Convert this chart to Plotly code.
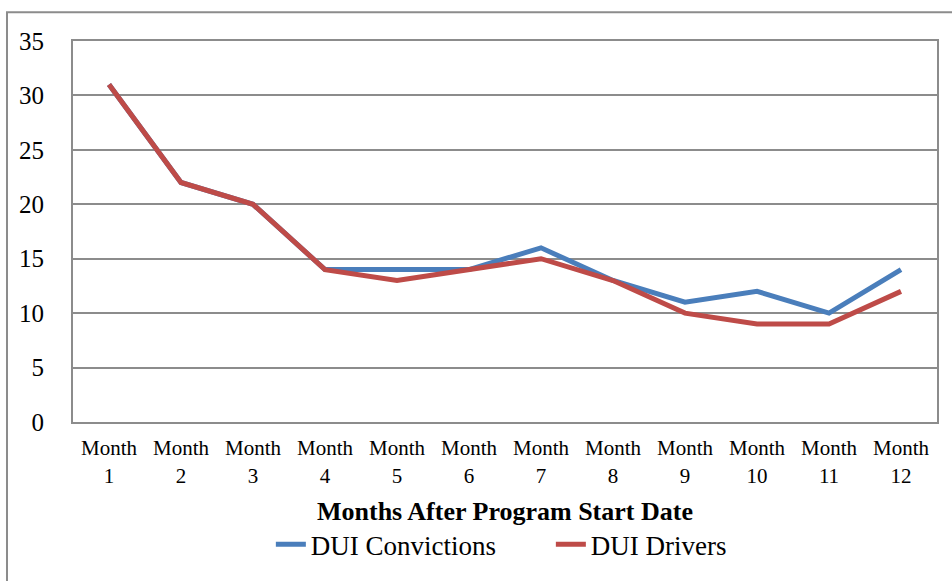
import plotly.graph_objects as go

# Data
months = ["Month<br>1", "Month<br>2", "Month<br>3", "Month<br>4", "Month<br>5", "Month<br>6",
          "Month<br>7", "Month<br>8", "Month<br>9", "Month<br>10", "Month<br>11", "Month<br>12"]
dui_convictions = [31, 22, 20, 14, 14, 14, 16, 13, 11, 12, 10, 14]
dui_drivers = [31, 22, 20, 14, 13, 14, 15, 13, 10, 9, 9, 12]
y_ticks = [0, 5, 10, 15, 20, 25, 30, 35]

serif = "Liberation Serif, Times New Roman, serif"
grid = "#8c8c8c"

fig = go.Figure()

fig.add_trace(go.Scatter(
    x=months, y=dui_convictions,
    mode="lines",
    line=dict(color="#4a7ebb", width=5),
    name="DUI Convictions",
))
fig.add_trace(go.Scatter(
    x=months, y=dui_drivers,
    mode="lines",
    line=dict(color="#be4b48", width=5),
    name="DUI Drivers",
))

fig.update_layout(
    width=952, height=581,
    margin=dict(l=73, r=15, t=41, b=155),
    paper_bgcolor="white",
    plot_bgcolor="white",
    font=dict(family=serif, color="black"),
    showlegend=True,
    legend=dict(
        orientation="h",
        x=0.229, xanchor="left",
        y=-0.322, yanchor="middle",
        font=dict(size=27, family=serif),
        entrywidth=235,
        traceorder="normal",
    ),
    xaxis=dict(
        type="category",
        range=[-0.5, 11.5],
        showgrid=False,
        showline=True, linecolor=grid, linewidth=2, mirror=True,
        ticks="",
        ticklabelstandoff=6,
        tickfont=dict(size=21, family=serif),
        tickangle=0,
    ),
    yaxis=dict(
        range=[0, 35],
        tickvals=y_ticks,
        showgrid=True, gridcolor=grid, gridwidth=1.5,
        showline=True, linecolor=grid, linewidth=2, mirror=True,
        zeroline=False,
        ticks="",
        ticklabelstandoff=22,
        tickfont=dict(size=25, family=serif),
    ),
    annotations=[dict(
        text="<b>Months After Program Start Date</b>",
        xref="paper", yref="paper",
        x=0.5, y=-0.234, xanchor="center", yanchor="middle",
        showarrow=False,
        font=dict(size=26, family=serif),
    )],
    shapes=[dict(
        type="rect", xref="paper", yref="paper",
        x0=-0.0764, x1=1.03, y0=-0.43, y1=1.0753,
        line=dict(color=grid, width=2),
        layer="below",
    )],
)

# drop the default page margin so the figure sits at the window's top-left corner
fig.write_html("out.html", config={"displayModeBar": False},
               post_script="document.body.style.margin='0';")
